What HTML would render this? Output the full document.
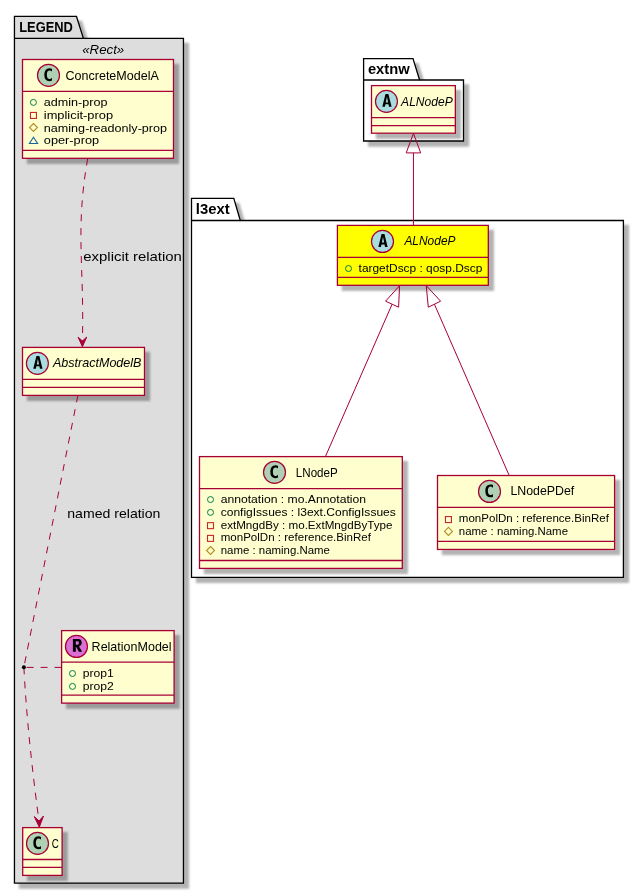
<!DOCTYPE html><html><head><meta charset="utf-8"><style>html,body{margin:0;padding:0;background:#fff;}svg{display:block;will-change:transform;}</style></head><body>
<svg width="644" height="894" viewBox="0 0 644 894" font-family='"Liberation Sans", sans-serif'>
<defs><filter height="300%" id="f1" width="300%" x="-1" y="-1"><feGaussianBlur result="blurOut" stdDeviation="1.0"/><feColorMatrix in="blurOut" result="blurOut2" type="matrix" values="0 0 0 0 0 0 0 0 0 0 0 0 0 0 0 0 0 0 .3 0"/><feOffset dx="5.0" dy="5.0" in="blurOut2" result="blurOut3"/><feBlend in="SourceGraphic" in2="blurOut3" mode="normal"/></filter></defs>
<rect width="644" height="894" fill="#FFFFFF"/>
<polygon points="14.45,16.45 76.5,16.45 83.4,38.35 183.45,38.35 183.45,883.15 14.45,883.15" fill="#DDDDDD" filter="url(#f1)" stroke="#000000" stroke-width="1.3"/>
<line x1="14.45" y1="38.35" x2="83.4" y2="38.35" stroke="#000000" stroke-width="1.3"/>
<text x="19.20" y="31.60" font-size="15" font-weight="bold" fill="#000000" textLength="53.70" lengthAdjust="spacingAndGlyphs">LEGEND</text>
<polygon points="363.6,58.6 413,58.6 419.6,80.0 463.5,80.0 463.5,141.0 363.6,141.0" fill="#FFFFFF" filter="url(#f1)" stroke="#000000" stroke-width="1.3"/>
<line x1="363.6" y1="80.0" x2="419.6" y2="80.0" stroke="#000000" stroke-width="1.3"/>
<text x="367.90" y="73.60" font-size="14.5" font-weight="bold" fill="#000000" textLength="41.77" lengthAdjust="spacingAndGlyphs">extnw</text>
<polygon points="191.5,198.4 233.8,198.4 240.3,220.5 623.4,220.5 623.4,577.3 191.5,577.3" fill="#FFFFFF" filter="url(#f1)" stroke="#000000" stroke-width="1.3"/>
<line x1="191.5" y1="220.5" x2="240.3" y2="220.5" stroke="#000000" stroke-width="1.3"/>
<text x="195.80" y="213.60" font-size="15" font-weight="bold" fill="#000000" textLength="33.90" lengthAdjust="spacingAndGlyphs">l3ext</text>
<text x="82.20" y="53.60" font-size="12" font-style="italic" fill="#000000" textLength="42.01" lengthAdjust="spacingAndGlyphs">«Rect»</text>
<rect x="22.5" y="59.5" width="151.00" height="98.80" fill="#FEFECE" filter="url(#f1)" stroke="#A80036" stroke-width="1.3"/>
<line x1="22.5" y1="91.4" x2="173.50" y2="91.4" stroke="#A80036" stroke-width="1.3"/>
<line x1="22.5" y1="150.4" x2="173.50" y2="150.4" stroke="#A80036" stroke-width="1.3"/>
<circle cx="48.5" cy="75.3" r="11" fill="#ADD1B2" stroke="#A80036" stroke-width="1.2"/>
<path fill="#000000" transform="translate(3.033,4.395)" d="M48.9688,76.1406 Q48.3906,76.4375 47.75,76.5859 Q47.1094,76.7344 46.4063,76.7344 Q43.9063,76.7344 42.5859,75.0859 Q41.2656,73.4375 41.2656,70.3125 Q41.2656,67.1719 42.5859,65.5234 Q43.9063,63.875 46.4063,63.875 Q47.1094,63.875 47.7578,64.0234 Q48.4063,64.1719 48.9688,64.4688 L48.9688,67.1875 Q48.3438,66.6094 47.75,66.3359 Q47.1563,66.0625 46.5313,66.0625 Q45.1875,66.0625 44.5,67.1406 Q43.8125,68.2188 43.8125,70.3125 Q43.8125,72.4063 44.5,73.4844 Q45.1875,74.5625 46.5313,74.5625 Q47.1563,74.5625 47.75,74.2891 Q48.3438,74.0156 48.9688,73.4375 Z"/>
<text x="65.50" y="79.70" font-size="13.5" fill="#000000" textLength="93.30" lengthAdjust="spacingAndGlyphs">ConcreteModelA</text>
<circle cx="33.4" cy="102.4" r="3" fill="none" stroke="#038048" stroke-width="1.0"/>
<text x="43.80" y="105.50" font-size="11" fill="#000000" textLength="63.70" lengthAdjust="spacingAndGlyphs">admin-prop</text>
<rect x="30.45" y="112.45" width="6" height="6" fill="none" stroke="#C82930" stroke-width="1.1"/>
<text x="43.80" y="118.60" font-size="11" fill="#000000" textLength="69.30" lengthAdjust="spacingAndGlyphs">implicit-prop</text>
<polygon points="33.45,123.50 37.45,127.50 33.45,131.50 29.45,127.50" fill="none" stroke="#B38D22" stroke-width="1.1"/>
<text x="43.80" y="131.50" font-size="11" fill="#000000" textLength="123.30" lengthAdjust="spacingAndGlyphs">naming-readonly-prop</text>
<polygon points="33.50,137.30 37.60,143.50 29.40,143.50" fill="none" stroke="#1963A0" stroke-width="1.1"/>
<text x="43.80" y="144.45" font-size="11" fill="#000000" textLength="55.30" lengthAdjust="spacingAndGlyphs">oper-prop</text>
<path d="M87.7,158.5 C75.04,230.26 84.39,265.06 82.4,340.7" fill="none" stroke="#A80036" stroke-width="1" stroke-dasharray="7,7"/>
<polygon points="82.4,346.7 78.1,337.1 82.4,341.1 86.7,337.1" fill="#A80036" stroke="#A80036" stroke-width="1"/>
<text x="83.30" y="260.80" font-size="13" fill="#000000" textLength="98.60" lengthAdjust="spacingAndGlyphs">explicit relation</text>
<rect x="22.5" y="347.4" width="122.00" height="48.00" fill="#FEFECE" filter="url(#f1)" stroke="#A80036" stroke-width="1.3"/>
<line x1="22.5" y1="379.3" x2="144.50" y2="379.3" stroke="#A80036" stroke-width="1.3"/>
<line x1="22.5" y1="387.4" x2="144.50" y2="387.4" stroke="#A80036" stroke-width="1.3"/>
<circle cx="37.4" cy="363.35" r="11" fill="#A9DCDF" stroke="#A80036" stroke-width="1.2"/>
<path fill="#000000" fill-rule="evenodd" d="M33.25,368.80 L36.45,355.90 L39.35,355.90 L42.55,368.80 L39.95,368.80 L39.40,366.30 L36.40,366.30 L35.85,368.80 Z M36.75,364.40 L39.05,364.40 L37.90,358.80 Z"/>
<text x="52.93" y="367.40" font-size="13.5" font-style="italic" fill="#000000" textLength="88.57" lengthAdjust="spacingAndGlyphs">AbstractModelB</text>
<path d="M77.9,395.4 L23.9,667.2" fill="none" stroke="#A80036" stroke-width="1" stroke-dasharray="7,7"/>
<path d="M23.9,667.2 C27,730 35,790 38.9,821" fill="none" stroke="#A80036" stroke-width="1" stroke-dasharray="7,7"/>
<polygon points="39.3,827.2 34.3,816.6 39.0,821.0 43.5,816.0" fill="#A80036" stroke="#A80036" stroke-width="1"/>
<text x="67.30" y="518.00" font-size="13" fill="#000000" textLength="93.10" lengthAdjust="spacingAndGlyphs">named relation</text>
<path d="M61.6,667.4 L23.9,667.4" fill="none" stroke="#A80036" stroke-width="1" stroke-dasharray="7,7"/>
<circle cx="23.9" cy="667.2" r="2" fill="#000000"/>
<rect x="61.6" y="630.6" width="112.50" height="72.50" fill="#FEFECE" filter="url(#f1)" stroke="#A80036" stroke-width="1.3"/>
<line x1="61.6" y1="662.2" x2="174.10" y2="662.2" stroke="#A80036" stroke-width="1.3"/>
<line x1="61.6" y1="695.15" x2="174.10" y2="695.15" stroke="#A80036" stroke-width="1.3"/>
<circle cx="76.45" cy="646.45" r="11" fill="#DA70D6" stroke="#A80036" stroke-width="1.2"/>
<path fill="#000000" fill-rule="evenodd" d="M72.90,651.70 L72.90,638.90 L78.10,638.90 C80.80,638.90 81.70,640.60 81.70,642.80 C81.70,644.60 80.70,645.90 79.00,646.40 L82.10,651.70 L78.90,651.70 L76.30,647.00 L75.80,647.00 L75.80,651.70 Z M75.80,641.20 L77.70,641.20 C78.60,641.20 78.90,641.90 78.90,642.85 C78.90,643.80 78.50,644.70 77.70,644.70 L75.80,644.70 Z"/>
<text x="91.60" y="651.00" font-size="13.5" fill="#000000" textLength="80.00" lengthAdjust="spacingAndGlyphs">RelationModel</text>
<circle cx="72.5" cy="673.5" r="3" fill="none" stroke="#038048" stroke-width="1.0"/>
<text x="82.80" y="677.00" font-size="11" fill="#000000" textLength="31.05" lengthAdjust="spacingAndGlyphs">prop1</text>
<circle cx="72.5" cy="686.4" r="3" fill="none" stroke="#038048" stroke-width="1.0"/>
<text x="82.80" y="690.00" font-size="11" fill="#000000" textLength="31.05" lengthAdjust="spacingAndGlyphs">prop2</text>
<rect x="22.7" y="827.6" width="39.40" height="47.80" fill="#FEFECE" filter="url(#f1)" stroke="#A80036" stroke-width="1.3"/>
<line x1="22.7" y1="859.5" x2="62.10" y2="859.5" stroke="#A80036" stroke-width="1.3"/>
<line x1="22.7" y1="867.3" x2="62.10" y2="867.3" stroke="#A80036" stroke-width="1.3"/>
<circle cx="37.5" cy="843.4" r="11" fill="#ADD1B2" stroke="#A80036" stroke-width="1.2"/>
<path fill="#000000" transform="translate(-7.967,772.495)" d="M48.9688,76.1406 Q48.3906,76.4375 47.75,76.5859 Q47.1094,76.7344 46.4063,76.7344 Q43.9063,76.7344 42.5859,75.0859 Q41.2656,73.4375 41.2656,70.3125 Q41.2656,67.1719 42.5859,65.5234 Q43.9063,63.875 46.4063,63.875 Q47.1094,63.875 47.7578,64.0234 Q48.4063,64.1719 48.9688,64.4688 L48.9688,67.1875 Q48.3438,66.6094 47.75,66.3359 Q47.1563,66.0625 46.5313,66.0625 Q45.1875,66.0625 44.5,67.1406 Q43.8125,68.2188 43.8125,70.3125 Q43.8125,72.4063 44.5,73.4844 Q45.1875,74.5625 46.5313,74.5625 Q47.1563,74.5625 47.75,74.2891 Q48.3438,74.0156 48.9688,73.4375 Z"/>
<text x="51.80" y="847.80" font-size="13.5" fill="#000000" textLength="7.10" lengthAdjust="spacingAndGlyphs">C</text>
<rect x="371.5" y="85.6" width="83.85" height="47.60" fill="#FEFECE" filter="url(#f1)" stroke="#A80036" stroke-width="1.3"/>
<line x1="371.5" y1="117.6" x2="455.35" y2="117.6" stroke="#A80036" stroke-width="1.3"/>
<line x1="371.5" y1="125.7" x2="455.35" y2="125.7" stroke="#A80036" stroke-width="1.3"/>
<circle cx="386.45" cy="101.35" r="11" fill="#A9DCDF" stroke="#A80036" stroke-width="1.2"/>
<path fill="#000000" fill-rule="evenodd" d="M382.30,106.80 L385.50,93.90 L388.40,93.90 L391.60,106.80 L389.00,106.80 L388.45,104.30 L385.45,104.30 L384.90,106.80 Z M385.80,102.40 L388.10,102.40 L386.95,96.80 Z"/>
<text x="401.10" y="105.80" font-size="13.5" font-style="italic" fill="#000000" textLength="51.59" lengthAdjust="spacingAndGlyphs">ALNodeP</text>
<rect x="337.4" y="225.4" width="150.90" height="59.90" fill="#FFFF00" filter="url(#f1)" stroke="#A80036" stroke-width="1.3"/>
<line x1="337.4" y1="257.35" x2="488.30" y2="257.35" stroke="#A80036" stroke-width="1.3"/>
<line x1="337.4" y1="277.4" x2="488.30" y2="277.4" stroke="#A80036" stroke-width="1.3"/>
<circle cx="382.5" cy="241.45" r="11" fill="#A9DCDF" stroke="#A80036" stroke-width="1.2"/>
<path fill="#000000" fill-rule="evenodd" d="M378.35,246.90 L381.55,234.00 L384.45,234.00 L387.65,246.90 L385.05,246.90 L384.50,244.40 L381.50,244.40 L380.95,246.90 Z M381.85,242.50 L384.15,242.50 L383.00,236.90 Z"/>
<text x="404.40" y="245.20" font-size="13.5" font-style="italic" fill="#000000" textLength="51.10" lengthAdjust="spacingAndGlyphs">ALNodeP</text>
<circle cx="348.5" cy="268.5" r="3" fill="none" stroke="#038048" stroke-width="1.0"/>
<text x="358.60" y="271.70" font-size="11" fill="#000000" textLength="123.79" lengthAdjust="spacingAndGlyphs">targetDscp : qosp.Dscp</text>
<rect x="199.5" y="456.6" width="202.80" height="111.80" fill="#FEFECE" filter="url(#f1)" stroke="#A80036" stroke-width="1.3"/>
<line x1="199.5" y1="488.6" x2="402.30" y2="488.6" stroke="#A80036" stroke-width="1.3"/>
<line x1="199.5" y1="560.5" x2="402.30" y2="560.5" stroke="#A80036" stroke-width="1.3"/>
<circle cx="274.5" cy="472.3" r="11" fill="#ADD1B2" stroke="#A80036" stroke-width="1.2"/>
<path fill="#000000" transform="translate(229.033,401.395)" d="M48.9688,76.1406 Q48.3906,76.4375 47.75,76.5859 Q47.1094,76.7344 46.4063,76.7344 Q43.9063,76.7344 42.5859,75.0859 Q41.2656,73.4375 41.2656,70.3125 Q41.2656,67.1719 42.5859,65.5234 Q43.9063,63.875 46.4063,63.875 Q47.1094,63.875 47.7578,64.0234 Q48.4063,64.1719 48.9688,64.4688 L48.9688,67.1875 Q48.3438,66.6094 47.75,66.3359 Q47.1563,66.0625 46.5313,66.0625 Q45.1875,66.0625 44.5,67.1406 Q43.8125,68.2188 43.8125,70.3125 Q43.8125,72.4063 44.5,73.4844 Q45.1875,74.5625 46.5313,74.5625 Q47.1563,74.5625 47.75,74.2891 Q48.3438,74.0156 48.9688,73.4375 Z"/>
<text x="295.80" y="476.90" font-size="13.5" fill="#000000" textLength="42.00" lengthAdjust="spacingAndGlyphs">LNodeP</text>
<circle cx="210.5" cy="499.55" r="3" fill="none" stroke="#038048" stroke-width="1.0"/>
<text x="220.70" y="502.70" font-size="11" fill="#000000" textLength="145.30" lengthAdjust="spacingAndGlyphs">annotation : mo.Annotation</text>
<circle cx="210.5" cy="512.4" r="3" fill="none" stroke="#038048" stroke-width="1.0"/>
<text x="220.70" y="515.60" font-size="11" fill="#000000" textLength="175.10" lengthAdjust="spacingAndGlyphs">configIssues : l3ext.ConfigIssues</text>
<rect x="207.50" y="522.65" width="6" height="6" fill="none" stroke="#C82930" stroke-width="1.1"/>
<text x="220.70" y="528.50" font-size="11" fill="#000000" textLength="171.80" lengthAdjust="spacingAndGlyphs">extMngdBy : mo.ExtMngdByType</text>
<rect x="207.50" y="535.40" width="6" height="6" fill="none" stroke="#C82930" stroke-width="1.1"/>
<text x="220.70" y="541.20" font-size="11" fill="#000000" textLength="150.27" lengthAdjust="spacingAndGlyphs">monPolDn : reference.BinRef</text>
<polygon points="210.50,546.50 214.50,550.50 210.50,554.50 206.50,550.50" fill="none" stroke="#B38D22" stroke-width="1.1"/>
<text x="220.70" y="553.70" font-size="11" fill="#000000" textLength="109.30" lengthAdjust="spacingAndGlyphs">name : naming.Name</text>
<rect x="437.5" y="475.5" width="177.10" height="73.95" fill="#FEFECE" filter="url(#f1)" stroke="#A80036" stroke-width="1.3"/>
<line x1="437.5" y1="507.3" x2="614.60" y2="507.3" stroke="#A80036" stroke-width="1.3"/>
<line x1="437.5" y1="541.4" x2="614.60" y2="541.4" stroke="#A80036" stroke-width="1.3"/>
<circle cx="489.5" cy="491.45" r="11" fill="#ADD1B2" stroke="#A80036" stroke-width="1.2"/>
<path fill="#000000" transform="translate(444.033,420.545)" d="M48.9688,76.1406 Q48.3906,76.4375 47.75,76.5859 Q47.1094,76.7344 46.4063,76.7344 Q43.9063,76.7344 42.5859,75.0859 Q41.2656,73.4375 41.2656,70.3125 Q41.2656,67.1719 42.5859,65.5234 Q43.9063,63.875 46.4063,63.875 Q47.1094,63.875 47.7578,64.0234 Q48.4063,64.1719 48.9688,64.4688 L48.9688,67.1875 Q48.3438,66.6094 47.75,66.3359 Q47.1563,66.0625 46.5313,66.0625 Q45.1875,66.0625 44.5,67.1406 Q43.8125,68.2188 43.8125,70.3125 Q43.8125,72.4063 44.5,73.4844 Q45.1875,74.5625 46.5313,74.5625 Q47.1563,74.5625 47.75,74.2891 Q48.3438,74.0156 48.9688,73.4375 Z"/>
<text x="510.40" y="495.30" font-size="13.5" fill="#000000" textLength="63.87" lengthAdjust="spacingAndGlyphs">LNodePDef</text>
<rect x="445.45" y="516.55" width="6" height="6" fill="none" stroke="#C82930" stroke-width="1.1"/>
<text x="458.85" y="521.80" font-size="11" fill="#000000" textLength="150.02" lengthAdjust="spacingAndGlyphs">monPolDn : reference.BinRef</text>
<polygon points="448.45,527.40 452.45,531.40 448.45,535.40 444.45,531.40" fill="none" stroke="#B38D22" stroke-width="1.1"/>
<text x="458.85" y="534.85" font-size="11" fill="#000000" textLength="109.15" lengthAdjust="spacingAndGlyphs">name : naming.Name</text>
<polygon points="413.45,133.4 406.2,152.9 420.7,152.9" fill="none" stroke="#A80036" stroke-width="1"/>
<line x1="413.45" y1="152.9" x2="413.45" y2="225.4" stroke="#A80036" stroke-width="1"/>
<polygon points="399.6,285.6 385.6,301.2 398.6,307.2" fill="none" stroke="#A80036" stroke-width="1"/>
<line x1="392.1" y1="304.2" x2="325.4" y2="456.6" stroke="#A80036" stroke-width="1"/>
<polygon points="426.2,285.6 440.6,301.2 428.3,307.2" fill="none" stroke="#A80036" stroke-width="1"/>
<line x1="434.4" y1="304.2" x2="509.2" y2="475.5" stroke="#A80036" stroke-width="1"/>
</svg></body></html>
